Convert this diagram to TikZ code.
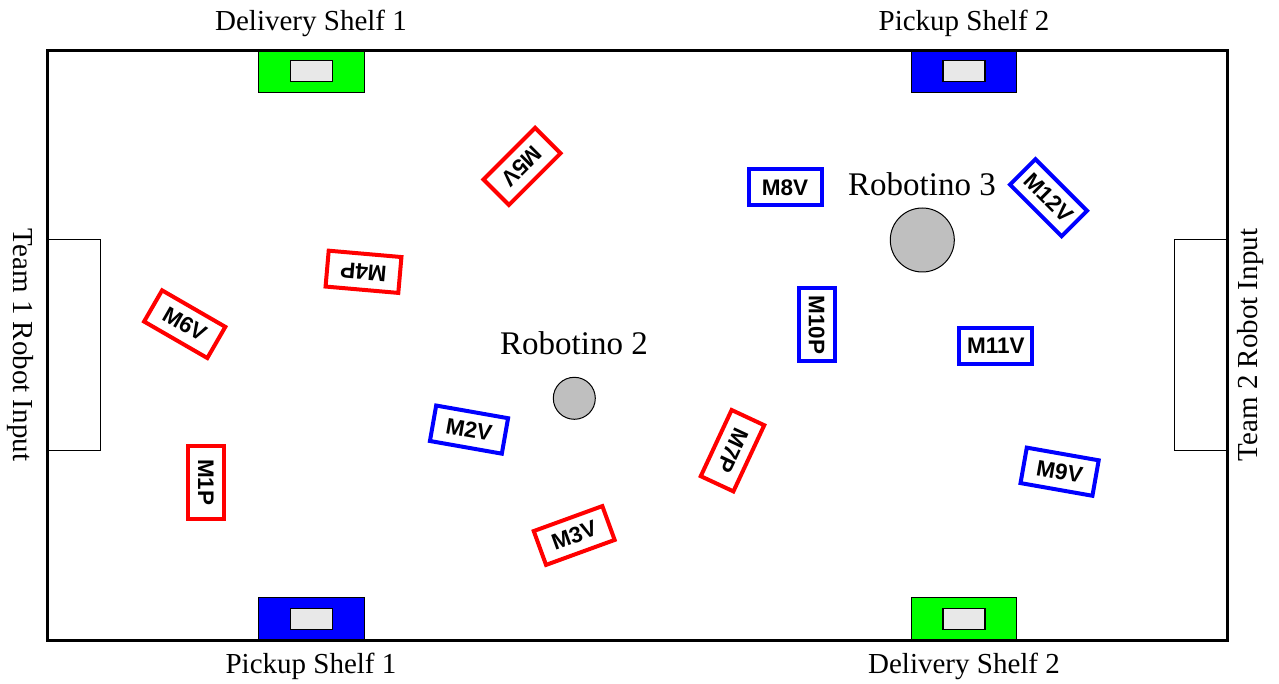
\documentclass[tikz,border=0pt]{standalone}
\usepackage{fontspec}
\setmainfont{Liberation Serif}
\newfontfamily\machfont{Liberation Sans}
\begin{document}
\begin{tikzpicture}[x=1pt,y=-1pt,
 lbl/.style={font=\fontsize{29}{34}\selectfont, inner sep=0},
 robolbl/.style={font=\fontsize{33}{38}\selectfont, inner sep=0, anchor=base},
 mach/.style={draw, line width=4pt, minimum width=73pt, minimum height=36pt, inner sep=0, fill=white, font=\machfont\bfseries\fontsize{22.5}{24}\selectfont},
 redmach/.style={mach, draw=red},
 bluemach/.style={mach, draw=blue},
 robot/.style={circle, draw, line width=1pt, fill=gray!50, inner sep=0},
 shelf/.style={draw, line width=1pt, minimum width=105.7pt, minimum height=42.5pt, inner sep=0},
 slot/.style={draw, line width=1.4pt, fill=gray!18, minimum width=42pt, minimum height=21pt, inner sep=0},
 inbox/.style={draw, line width=1pt, minimum width=53pt, minimum height=210.7pt, inner sep=0},
]
\useasboundingbox[fill=white] (0,0) rectangle (1279,684);
% shelves
\node[shelf, fill=green] (ds1) at (311.2,71.3) {};
\node[shelf, fill=blue] (ps2) at (964,71.3) {};
\node[shelf, fill=blue] (ps1) at (311.2,619.2) {};
\node[shelf, fill=green] (ds2) at (964,619.2) {};
% team input boxes
\node[inbox] (in1) at (74,345.3) {};
\node[inbox] (in2) at (1200.8,345.3) {};
% field
\draw[line width=3pt] (47.5,50.5) rectangle (1227.3,640.7);
% slots
\node[slot] (s1) at (ds1) {};
\node[slot] (s2) at (ps2) {};
\node[slot] (s3) at (ps1) {};
\node[slot] (s4) at (ds2) {};
% shelf labels
\node[lbl, anchor=base] (lds1) at (311,31) {Delivery Shelf 1};
\node[lbl, anchor=base] (lps2) at (964,31) {Pickup Shelf 2};
\node[lbl, anchor=base] (lps1) at (311,673) {Pickup Shelf 1};
\node[lbl, anchor=base] (lds2) at (964,673) {Delivery Shelf 2};
% team labels
\node[lbl, rotate=-90] (t1) at (20,345) {Team 1 Robot Input};
\node[lbl, rotate=90] (t2) at (1251,345) {Team 2 Robot Input};
% machines
\node[redmach, rotate=-90] (m1) at (205.8,482.3) {M1P};
\node[bluemach, rotate=-10] (m2) at (469,429.6) {M2V};
\node[redmach, rotate=20] (m3) at (574.2,535.5) {M3V};
\node[redmach, rotate=175] (m4) at (363.5,271.8) {M4P};
\node[redmach, rotate=-135] (m5) at (522,166.4) {M5V};
\node[redmach, rotate=-30] (m6) at (184.7,324.2) {M6V};
\node[redmach, rotate=-115] (m7) at (732.5,450.7) {M7P};
\node[bluemach] (m8) at (785,187.3) {M8V};
\node[bluemach, rotate=-10] (m9) at (1059.6,471.7) {M9V};
\node[bluemach, rotate=-90] (m10) at (816.7,324.7) {M10P};
\node[bluemach] (m11) at (995.8,345.7) {M11V};
\node[bluemach, rotate=-45] (m12) at (1048.5,197.7) {M12V};
% robots
\node[robot, minimum size=42pt] (r2) at (574.3,398.3) {};
\node[robot, minimum size=64pt] (r3) at (922.3,240) {};
\node[robolbl] (lr2) at (574,354) {Robotino 2};
\node[robolbl] (lr3) at (922,196) {Robotino 3};
\end{tikzpicture}
\end{document}
